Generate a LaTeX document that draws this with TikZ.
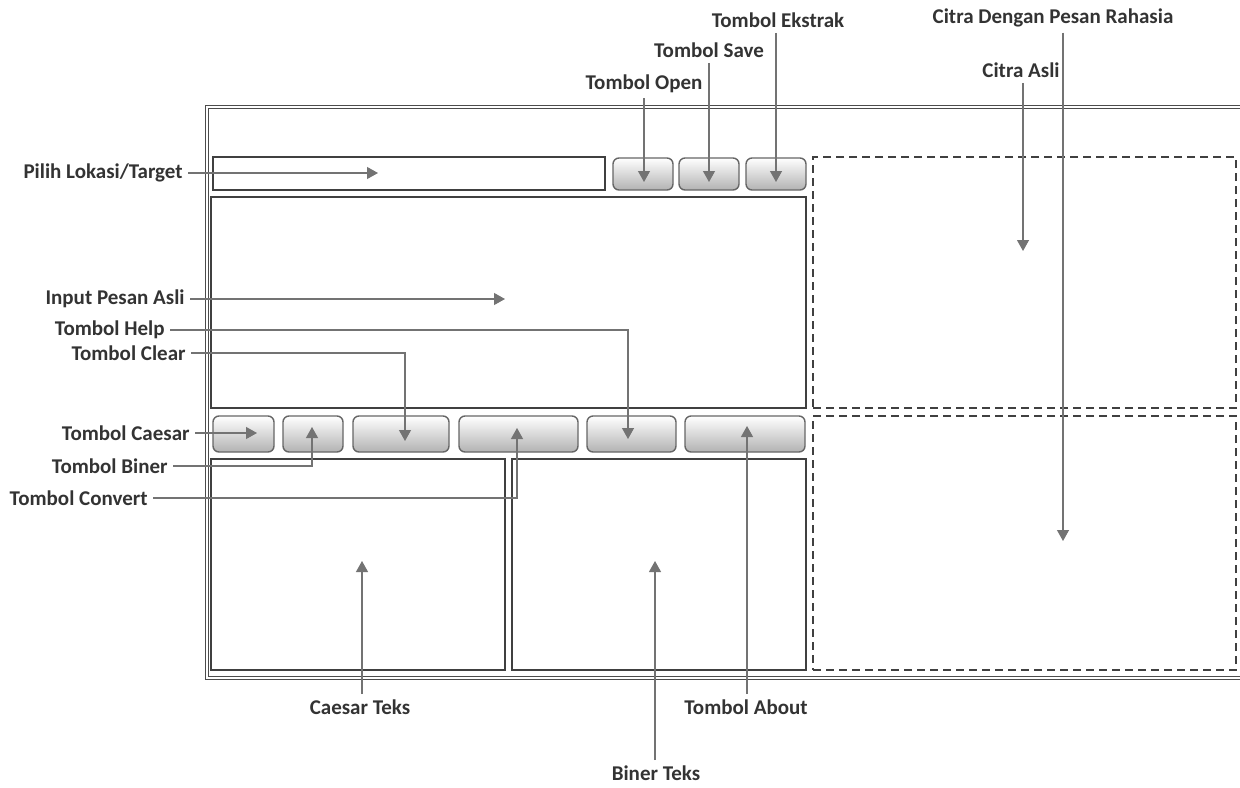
\documentclass[tikz,border=0pt]{standalone}
\usepackage{fontspec}
\setmainfont{Carlito}
\usetikzlibrary{positioning, arrows.meta}

\begin{document}
\begin{tikzpicture}[
  x=0.5pt, y=-0.5pt,
  field/.style={draw=black!75, line width=0.7pt, inner sep=0pt},
  btn/.style={draw=black!60, line width=0.7pt, rounded corners=3pt, inner sep=0pt,
              top color=white, middle color=white, bottom color=gray!60,
              minimum height=18pt},
  slot/.style={draw=black!75, line width=1.2pt, dash pattern=on 4pt off 2.5pt, inner sep=0pt},
  lbl/.style={font=\fontsize{10.5}{12}\selectfont\bfseries, text=black!80, inner sep=2.5pt},
  ptr/.style={draw=black!55, line width=0.6pt,
              -{Triangle[length=5.5pt, width=6pt]}},
]
  \clip (0,0) rectangle (1240,787);

  % window frame
  \draw[black!70, line width=0.5pt, double, double distance=0.8pt] (207,107) rectangle (1260,678);

  % top bar
  \node[field, minimum width=196pt, minimum height=16.5pt] (addr) at (409,173.5) {};
  \node[btn, minimum width=30pt, minimum height=16pt] (bopen) at (643,174) {};
  \node[btn, minimum width=30pt, minimum height=16pt] (bsave) at (709,174) {};
  \node[btn, minimum width=30pt, minimum height=16pt] (bekstrak) at (776,174) {};

  % message input
  \node[field, minimum width=297.5pt, minimum height=105.5pt] (input) at (508.5,302.5) {};

  % image slots
  \node[slot, minimum width=211.5pt, minimum height=125.5pt] (asli) at (1024.5,282.5) {};
  \node[slot, minimum width=211.5pt, minimum height=127pt] (rahasia) at (1024.5,543) {};

  % button row
  \node[btn, minimum width=30.5pt] (bcaesar) at (243.5,434) {};
  \node[btn, minimum width=30pt] (bbiner) at (313,434) {};
  \node[btn, minimum width=48pt] (bclear) at (401,434) {};
  \node[btn, minimum width=59.5pt] (bconvert) at (518.5,434) {};
  \node[btn, minimum width=44.5pt] (bhelp) at (631.5,434) {};
  \node[btn, minimum width=60pt] (babout) at (745,434) {};

  % output areas
  \node[field, minimum width=147pt, minimum height=105.5pt] (caesarbox) at (358,564.5) {};
  \node[field, minimum width=147pt, minimum height=105.5pt] (binerbox) at (659,564.5) {};

  % arrow tips
  \coordinate (tpilih) at (378,173);
  \coordinate (tinput) at (505,299);
  \coordinate (thelp) at (628,439);
  \coordinate (tclear) at (405,441);
  \coordinate (tcaesar) at (257,433);
  \coordinate (tbiner) at (312,427);
  \coordinate (tconvert) at (517,428);
  \coordinate (topen) at (644,182);
  \coordinate (tsave) at (709,182);
  \coordinate (tekstrak) at (776,182);
  \coordinate (tasli) at (1023,251);
  \coordinate (trahasia) at (1063,541);
  \coordinate (tcaesarteks) at (362,561);
  \coordinate (tbinerteks) at (655,561);
  \coordinate (tabout) at (747,426);

  % labels on the left
  \node[lbl, anchor=east] (lpilih) at (188,173) {Pilih Lokasi/Target};
  \node[lbl, anchor=east] (linput) at (190,299) {Input Pesan Asli};
  \node[lbl, anchor=east] (lhelp) at (170,330) {Tombol Help};
  \node[lbl, anchor=east] (lclear) at (191,353) {Tombol Clear};
  \node[lbl, anchor=east] (lcaesar) at (195,433) {Tombol Caesar};
  \node[lbl, anchor=east] (lbiner) at (173,466) {Tombol Biner};
  \node[lbl, anchor=east] (lconvert) at (153,498) {Tombol Convert};

  % labels on top
  \node[lbl] (lopen) at (644,84) {Tombol Open};
  \node[lbl] (lsave) at (709,50) {Tombol Save};
  \node[lbl] (lekstrak) at (778,20) {Tombol Ekstrak};
  \node[lbl] (lasli) at (1021,70) {Citra Asli};
  \node[lbl] (lrahasia) at (1053,18) {Citra Dengan Pesan Rahasia};

  % labels below
  \node[lbl] (lcaesarteks) at (360,707) {Caesar Teks};
  \node[lbl] (labout) at (746,707) {Tombol About};
  \node[lbl] (lbinerteks) at (656,773) {Biner Teks};

  % pointers
  \draw[ptr] (lpilih.east) -- (tpilih);
  \draw[ptr] (linput.east) -- (tinput);
  \draw[ptr] (lhelp.east) -| (thelp);
  \draw[ptr] (lclear.east) -| (tclear);
  \draw[ptr] (lcaesar.east) -- (tcaesar);
  \draw[ptr] (lbiner.east) -| (tbiner);
  \draw[ptr] (lconvert.east) -| (tconvert);
  \draw[ptr] (topen |- lopen.south) -- (topen);
  \draw[ptr] (tsave |- lsave.south) -- (tsave);
  \draw[ptr] (tekstrak |- lekstrak.south) -- (tekstrak);
  \draw[ptr] (tasli |- lasli.south) -- (tasli);
  \draw[ptr] (trahasia |- lrahasia.south) -- (trahasia);
  \draw[ptr] (tcaesarteks |- lcaesarteks.north) -- (tcaesarteks);
  \draw[ptr] (tabout |- labout.north) -- (tabout);
  \draw[ptr] (tbinerteks |- lbinerteks.north) -- (tbinerteks);

\end{tikzpicture}
\end{document}
